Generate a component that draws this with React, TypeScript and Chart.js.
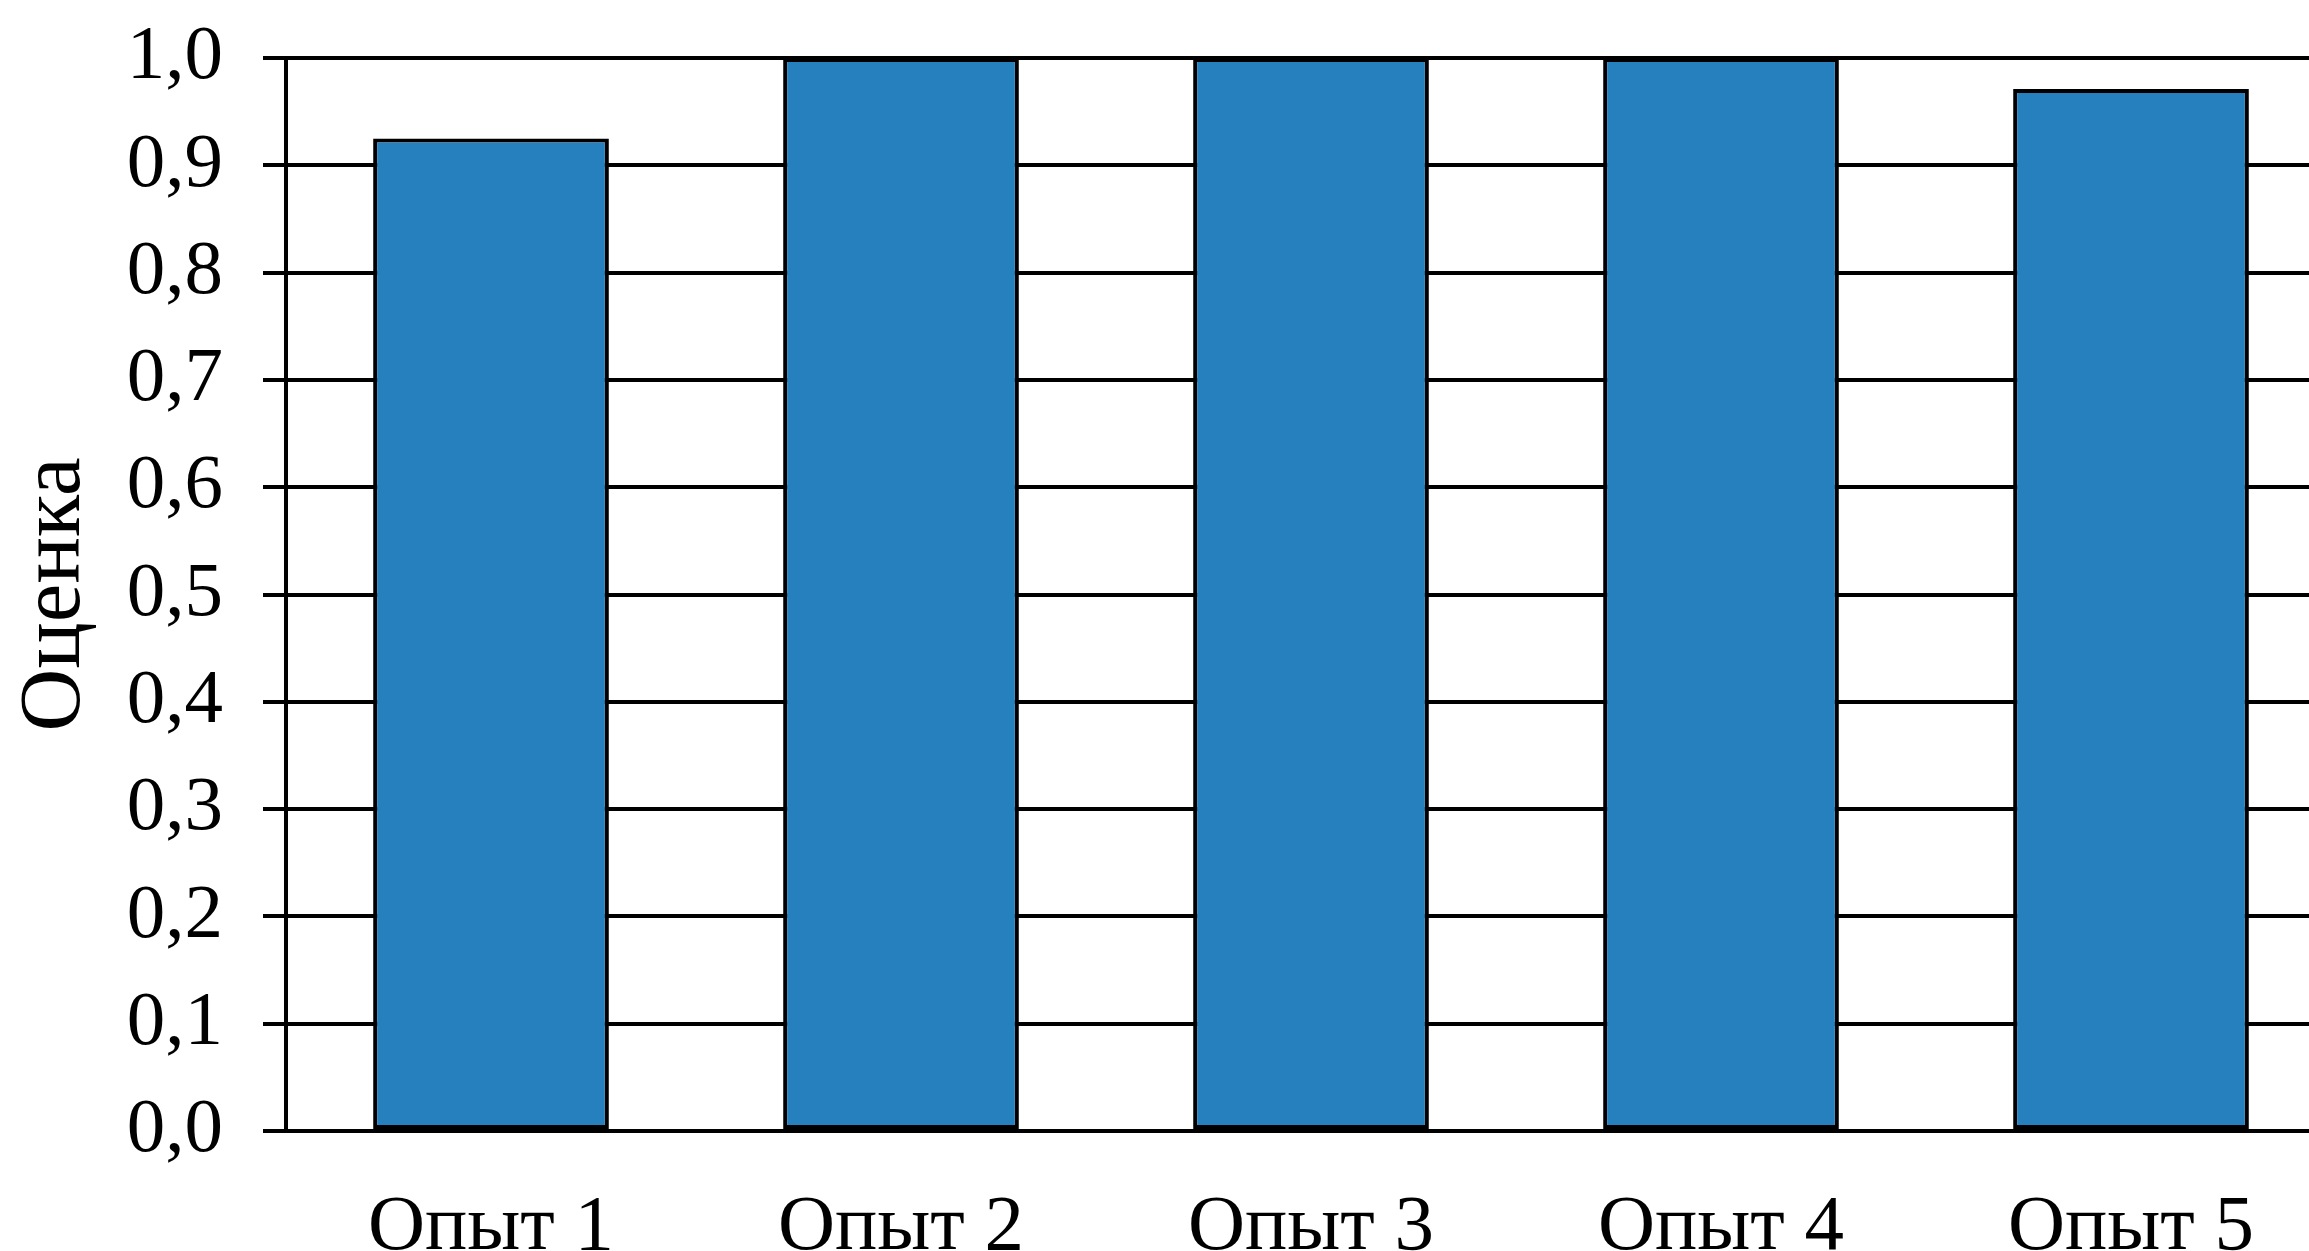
import React, { useEffect, useRef } from 'react';
import { Chart, registerables } from 'chart.js';

Chart.register(...registerables);

const categories = ['Опыт 1', 'Опыт 2', 'Опыт 3', 'Опыт 4', 'Опыт 5'];
const scores = [0.925, 1.0, 1.0, 1.0, 0.971];
const yTickLabels = ['0,0', '0,1', '0,2', '0,3', '0,4', '0,5', '0,6', '0,7', '0,8', '0,9', '1,0'];
const yAxisTitle = 'Оценка';

export default function App() {
  const ref = useRef<HTMLCanvasElement>(null);

  useEffect(() => {
    const family = '"Liberation Serif", "DejaVu Serif", serif';
    const font = { family, size: 77 };
    const chart = new Chart(ref.current as HTMLCanvasElement, {
      type: 'bar',
      data: {
        labels: categories,
        datasets: [
          {
            data: scores,
            backgroundColor: '#2780BE',
            borderColor: '#000000',
            borderWidth: 4,
            borderSkipped: false,
            barPercentage: 0.575,
            categoryPercentage: 1,
          },
        ],
      },
      options: {
        responsive: false,
        animation: false,
        devicePixelRatio: 1,
        layout: { padding: { top: 58, left: 0, right: 0, bottom: 0 } },
        plugins: { legend: { display: false }, tooltip: { enabled: false } },
        scales: {
          x: {
            grid: { display: false },
            border: { display: true, color: '#000000', width: 4 },
            ticks: { color: '#000000', font: { family, size: 79 }, padding: 42 },
            afterFit: (s: any) => {
              s.height = 120;
              s.paddingLeft = 0;
              s.paddingRight = 0;
            },
          },
          y: {
            min: 0,
            max: 1,
            ticks: {
              stepSize: 0.1,
              color: '#000000',
              font,
              padding: 40,
              callback: (_v: any, i: number) => yTickLabels[i],
            },
            grid: { color: '#000000', lineWidth: 4, tickLength: 23, tickColor: '#000000', tickWidth: 4 },
            border: { display: true, color: '#000000', width: 4 },
            title: {
              display: true,
              text: yAxisTitle,
              color: '#000000',
              font: { family, size: 87 },
              padding: { top: 4, bottom: 0 },
            },
            afterFit: (s: any) => {
              s.width = 286;
              s.paddingTop = 0;
              s.paddingBottom = 0;
            },
          },
        },
      },
    });
    return () => chart.destroy();
  }, []);

  return (
    <div
      style={{
        position: 'fixed',
        left: 0,
        top: 0,
        width: 2309,
        height: 1251,
        overflow: 'hidden',
        background: '#ffffff',
      }}
    >
      <canvas ref={ref} width={2336} height={1251} style={{ display: 'block' }} />
    </div>
  );
}
